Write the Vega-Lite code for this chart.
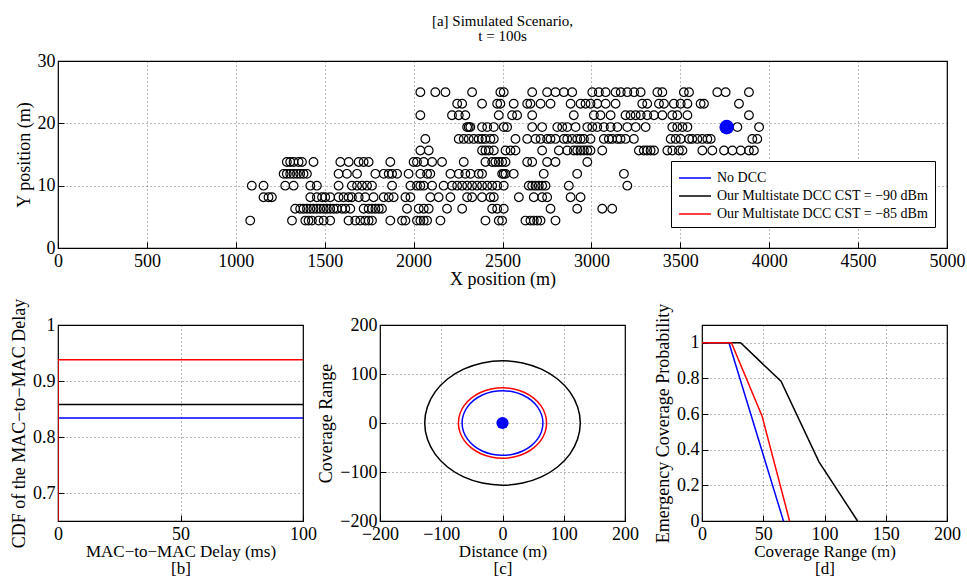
{
"$schema":"https://vega.github.io/schema/vega-lite/v6.json",
"background":"white",
"padding":{"left":9,"top":13,"right":0,"bottom":0},
"bounds":"flush",
"spacing":77,
"config":{
 "font":"Liberation Serif",
 "view":{"stroke":"black","strokeWidth":1.2},
 "axis":{"labelFont":"Liberation Serif","labelFontSize":18,"labelColor":"black","titleFont":"Liberation Serif","titleFontSize":18,"titleFontWeight":"normal","titleColor":"black","domain":false,"grid":true,"gridColor":"#000","gridDash":[1,3],"gridOpacity":0.55,"gridWidth":1,"tickColor":"black","tickSize":-6,"tickWidth":1,"titlePadding":4,"labelFlush":false,"labelOverlap":false},
 "axisX":{"labelPadding":10},
 "axisY":{"labelPadding":9},
 "legend":{"orient":"none","legendX":613,"legendY":100,"labelFont":"Liberation Serif","labelFontSize":14,"labelColor":"black","labelLimit":400,"symbolType":"M-1.6,0H1.6","symbolSize":400,"symbolStrokeWidth":1.5,"symbolOffset":7,"strokeColor":"black","fillColor":"white","padding":6,"rowPadding":0,"labelOffset":11},
 "title":{"font":"Liberation Serif","fontSize":15,"fontWeight":"normal","color":"black"}
},
"vconcat":[
{
 "width":889,"height":187,
 "title":{"text":["[a] Simulated Scenario,","t = 100s"],"anchor":"middle","offset":8,"lineHeight":15},
 "layer":[
 {
  "data":{"values":[
{"x":2038,"y":25},{"x":2122,"y":25},{"x":2179,"y":25},{"x":2329,"y":25},{"x":2488,"y":25},{"x":2507,"y":25},{"x":2667,"y":25},{"x":2751,"y":25},{"x":2798,"y":25},{"x":2845,"y":25},{"x":2892,"y":25},{"x":3005,"y":25},{"x":3042,"y":25},{"x":3080,"y":25},{"x":3136,"y":25},{"x":3165,"y":25},{"x":3202,"y":25},{"x":3240,"y":25},{"x":3277,"y":25},{"x":3371,"y":25},{"x":3399,"y":25},{"x":3520,"y":25},{"x":3549,"y":25},{"x":3708,"y":25},{"x":3755,"y":25},{"x":3886,"y":25},
{"x":2245,"y":23.15},{"x":2273,"y":23.15},{"x":2385,"y":23.15},{"x":2470,"y":23.15},{"x":2488,"y":23.15},{"x":2563,"y":23.15},{"x":2639,"y":23.15},{"x":2657,"y":23.15},{"x":2714,"y":23.15},{"x":2770,"y":23.15},{"x":2883,"y":23.15},{"x":2939,"y":23.15},{"x":2967,"y":23.15},{"x":2995,"y":23.15},{"x":3033,"y":23.15},{"x":3080,"y":23.15},{"x":3136,"y":23.15},{"x":3286,"y":23.15},{"x":3314,"y":23.15},{"x":3380,"y":23.15},{"x":3408,"y":23.15},{"x":3464,"y":23.15},{"x":3502,"y":23.15},{"x":3540,"y":23.15},{"x":3614,"y":23.15},{"x":3633,"y":23.15},{"x":3830,"y":23.15},
{"x":2038,"y":21.3},{"x":2216,"y":21.3},{"x":2254,"y":21.3},{"x":2291,"y":21.3},{"x":2479,"y":21.3},{"x":2554,"y":21.3},{"x":2582,"y":21.3},{"x":2667,"y":21.3},{"x":2901,"y":21.3},{"x":3014,"y":21.3},{"x":3051,"y":21.3},{"x":3108,"y":21.3},{"x":3192,"y":21.3},{"x":3220,"y":21.3},{"x":3249,"y":21.3},{"x":3277,"y":21.3},{"x":3314,"y":21.3},{"x":3352,"y":21.3},{"x":3399,"y":21.3},{"x":3455,"y":21.3},{"x":3483,"y":21.3},{"x":3540,"y":21.3},{"x":3886,"y":21.3},
{"x":2301,"y":19.4},{"x":2310,"y":19.4},{"x":2319,"y":19.4},{"x":2385,"y":19.4},{"x":2414,"y":19.4},{"x":2451,"y":19.4},{"x":2507,"y":19.4},{"x":2526,"y":19.4},{"x":2667,"y":19.4},{"x":2723,"y":19.4},{"x":2808,"y":19.4},{"x":2836,"y":19.4},{"x":2864,"y":19.4},{"x":2911,"y":19.4},{"x":2977,"y":19.4},{"x":3005,"y":19.4},{"x":3033,"y":19.4},{"x":3070,"y":19.4},{"x":3108,"y":19.4},{"x":3146,"y":19.4},{"x":3202,"y":19.4},{"x":3249,"y":19.4},{"x":3305,"y":19.4},{"x":3455,"y":19.4},{"x":3483,"y":19.4},{"x":3512,"y":19.4},{"x":3540,"y":19.4},{"x":3821,"y":19.4},{"x":3943,"y":19.4},
{"x":2066,"y":17.5},{"x":2254,"y":17.5},{"x":2282,"y":17.5},{"x":2310,"y":17.5},{"x":2338,"y":17.5},{"x":2366,"y":17.5},{"x":2385,"y":17.5},{"x":2404,"y":17.5},{"x":2432,"y":17.5},{"x":2451,"y":17.5},{"x":2573,"y":17.5},{"x":2639,"y":17.5},{"x":2686,"y":17.5},{"x":2714,"y":17.5},{"x":2751,"y":17.5},{"x":2770,"y":17.5},{"x":2798,"y":17.5},{"x":2845,"y":17.5},{"x":2864,"y":17.5},{"x":2892,"y":17.5},{"x":2920,"y":17.5},{"x":2939,"y":17.5},{"x":2958,"y":17.5},{"x":2995,"y":17.5},{"x":3070,"y":17.5},{"x":3098,"y":17.5},{"x":3117,"y":17.5},{"x":3146,"y":17.5},{"x":3164,"y":17.5},{"x":3192,"y":17.5},{"x":3239,"y":17.5},{"x":3446,"y":17.5},{"x":3474,"y":17.5},{"x":3502,"y":17.5},{"x":3549,"y":17.5},{"x":3567,"y":17.5},{"x":3596,"y":17.5},{"x":3624,"y":17.5},{"x":3652,"y":17.5},{"x":3671,"y":17.5},{"x":3905,"y":17.5},{"x":3933,"y":17.5},
{"x":2038,"y":15.65},{"x":2085,"y":15.65},{"x":2385,"y":15.65},{"x":2404,"y":15.65},{"x":2423,"y":15.65},{"x":2451,"y":15.65},{"x":2517,"y":15.65},{"x":2545,"y":15.65},{"x":2573,"y":15.65},{"x":2723,"y":15.65},{"x":2817,"y":15.65},{"x":2864,"y":15.65},{"x":2901,"y":15.65},{"x":2920,"y":15.65},{"x":2939,"y":15.65},{"x":2958,"y":15.65},{"x":2977,"y":15.65},{"x":2995,"y":15.65},{"x":3061,"y":15.65},{"x":3267,"y":15.65},{"x":3295,"y":15.65},{"x":3314,"y":15.65},{"x":3333,"y":15.65},{"x":3352,"y":15.65},{"x":3427,"y":15.65},{"x":3455,"y":15.65},{"x":3492,"y":15.65},{"x":3512,"y":15.65},{"x":3624,"y":15.65},{"x":3680,"y":15.65},{"x":3746,"y":15.65},{"x":3793,"y":15.65},{"x":3840,"y":15.65},{"x":3886,"y":15.65},{"x":3914,"y":15.65},
{"x":1287,"y":13.8},{"x":1306,"y":13.8},{"x":1325,"y":13.8},{"x":1353,"y":13.8},{"x":1372,"y":13.8},{"x":1437,"y":13.8},{"x":1588,"y":13.8},{"x":1635,"y":13.8},{"x":1691,"y":13.8},{"x":1719,"y":13.8},{"x":1747,"y":13.8},{"x":1869,"y":13.8},{"x":2000,"y":13.8},{"x":2019,"y":13.8},{"x":2057,"y":13.8},{"x":2104,"y":13.8},{"x":2160,"y":13.8},{"x":2282,"y":13.8},{"x":2404,"y":13.8},{"x":2442,"y":13.8},{"x":2460,"y":13.8},{"x":2479,"y":13.8},{"x":2498,"y":13.8},{"x":2517,"y":13.8},{"x":2639,"y":13.8},{"x":2667,"y":13.8},{"x":2751,"y":13.8},{"x":2798,"y":13.8},{"x":2977,"y":13.8},
{"x":1269,"y":11.9},{"x":1287,"y":11.9},{"x":1306,"y":11.9},{"x":1325,"y":11.9},{"x":1344,"y":11.9},{"x":1362,"y":11.9},{"x":1381,"y":11.9},{"x":1400,"y":11.9},{"x":1578,"y":11.9},{"x":1625,"y":11.9},{"x":1682,"y":11.9},{"x":1785,"y":11.9},{"x":1832,"y":11.9},{"x":1860,"y":11.9},{"x":1879,"y":11.9},{"x":1907,"y":11.9},{"x":1972,"y":11.9},{"x":2038,"y":11.9},{"x":2076,"y":11.9},{"x":2094,"y":11.9},{"x":2207,"y":11.9},{"x":2254,"y":11.9},{"x":2291,"y":11.9},{"x":2320,"y":11.9},{"x":2366,"y":11.9},{"x":2385,"y":11.9},{"x":2498,"y":11.9},{"x":2507,"y":11.9},{"x":2517,"y":11.9},{"x":2563,"y":11.9},{"x":2732,"y":11.9},{"x":2920,"y":11.9},{"x":3183,"y":11.9},
{"x":1090,"y":10},{"x":1156,"y":10},{"x":1278,"y":10},{"x":1325,"y":10},{"x":1419,"y":10},{"x":1456,"y":10},{"x":1578,"y":10},{"x":1653,"y":10},{"x":1682,"y":10},{"x":1710,"y":10},{"x":1738,"y":10},{"x":1766,"y":10},{"x":1879,"y":10},{"x":1982,"y":10},{"x":2019,"y":10},{"x":2038,"y":10},{"x":2057,"y":10},{"x":2104,"y":10},{"x":2169,"y":10},{"x":2216,"y":10},{"x":2245,"y":10},{"x":2273,"y":10},{"x":2301,"y":10},{"x":2329,"y":10},{"x":2357,"y":10},{"x":2385,"y":10},{"x":2414,"y":10},{"x":2442,"y":10},{"x":2470,"y":10},{"x":2507,"y":10},{"x":2648,"y":10},{"x":2667,"y":10},{"x":2686,"y":10},{"x":2704,"y":10},{"x":2723,"y":10},{"x":2742,"y":10},{"x":2873,"y":10},{"x":3202,"y":10},
{"x":1156,"y":8.15},{"x":1184,"y":8.15},{"x":1203,"y":8.15},{"x":1419,"y":8.15},{"x":1456,"y":8.15},{"x":1485,"y":8.15},{"x":1503,"y":8.15},{"x":1531,"y":8.15},{"x":1578,"y":8.15},{"x":1606,"y":8.15},{"x":1634,"y":8.15},{"x":1653,"y":8.15},{"x":1691,"y":8.15},{"x":1728,"y":8.15},{"x":1775,"y":8.15},{"x":1832,"y":8.15},{"x":1860,"y":8.15},{"x":1888,"y":8.15},{"x":1954,"y":8.15},{"x":1982,"y":8.15},{"x":2094,"y":8.15},{"x":2141,"y":8.15},{"x":2207,"y":8.15},{"x":2301,"y":8.15},{"x":2329,"y":8.15},{"x":2385,"y":8.15},{"x":2432,"y":8.15},{"x":2451,"y":8.15},{"x":2592,"y":8.15},{"x":2676,"y":8.15},{"x":2723,"y":8.15},{"x":2751,"y":8.15},{"x":2883,"y":8.15},{"x":2939,"y":8.15},
{"x":1334,"y":6.3},{"x":1362,"y":6.3},{"x":1381,"y":6.3},{"x":1400,"y":6.3},{"x":1419,"y":6.3},{"x":1437,"y":6.3},{"x":1456,"y":6.3},{"x":1475,"y":6.3},{"x":1494,"y":6.3},{"x":1512,"y":6.3},{"x":1531,"y":6.3},{"x":1550,"y":6.3},{"x":1569,"y":6.3},{"x":1597,"y":6.3},{"x":1616,"y":6.3},{"x":1644,"y":6.3},{"x":1719,"y":6.3},{"x":1747,"y":6.3},{"x":1766,"y":6.3},{"x":1785,"y":6.3},{"x":1804,"y":6.3},{"x":1822,"y":6.3},{"x":1963,"y":6.3},{"x":2029,"y":6.3},{"x":2057,"y":6.3},{"x":2085,"y":6.3},{"x":2188,"y":6.3},{"x":2273,"y":6.3},{"x":2442,"y":6.3},{"x":2470,"y":6.3},{"x":2507,"y":6.3},{"x":2770,"y":6.3},{"x":2920,"y":6.3},{"x":3061,"y":6.3},{"x":3117,"y":6.3},
{"x":1081,"y":4.4},{"x":1316,"y":4.4},{"x":1391,"y":4.4},{"x":1409,"y":4.4},{"x":1428,"y":4.4},{"x":1466,"y":4.4},{"x":1494,"y":4.4},{"x":1531,"y":4.4},{"x":1634,"y":4.4},{"x":1672,"y":4.4},{"x":1700,"y":4.4},{"x":1728,"y":4.4},{"x":1747,"y":4.4},{"x":1766,"y":4.4},{"x":1869,"y":4.4},{"x":1935,"y":4.4},{"x":1954,"y":4.4},{"x":2019,"y":4.4},{"x":2038,"y":4.4},{"x":2057,"y":4.4},{"x":2076,"y":4.4},{"x":2151,"y":4.4},{"x":2404,"y":4.4},{"x":2479,"y":4.4},{"x":2498,"y":4.4},{"x":2629,"y":4.4},{"x":2657,"y":4.4},{"x":2676,"y":4.4},{"x":2695,"y":4.4},{"x":2714,"y":4.4},{"x":2798,"y":4.4}
  ]},
  "mark":{"type":"point","shape":"circle","filled":false,"stroke":"black","strokeWidth":1.2,"size":75,"opacity":1},
  "encoding":{
   "x":{"field":"x","type":"quantitative","scale":{"domain":[0,5000],"nice":false},"axis":{"values":[0,500,1000,1500,2000,2500,3000,3500,4000,4500,5000],"format":"d","title":"X position (m)","titlePadding":0}},
   "y":{"field":"y","type":"quantitative","scale":{"domain":[0,30],"nice":false},"axis":{"values":[0,10,20,30],"format":"d","title":"Y position (m)"}}
  }
 },
 {
  "data":{"values":[{"x":3761,"y":19.4}]},
  "mark":{"type":"point","shape":"circle","filled":true,"color":"#0000ff","size":215,"opacity":1},
  "encoding":{
   "x":{"field":"x","type":"quantitative"},
   "y":{"field":"y","type":"quantitative"}
  }
 }
 ]
},
{
 "bounds":"flush",
 "spacing":77,
 "hconcat":[
 {
  "width":245,"height":196,
  "data":{"values":[
   {"s":"No DCC","o":0,"x":0,"y":0.6},{"s":"No DCC","o":1,"x":0,"y":0.834},{"s":"No DCC","o":2,"x":100,"y":0.834},
   {"s":"Our Multistate DCC CST = −90 dBm","o":0,"x":0,"y":0.6},{"s":"Our Multistate DCC CST = −90 dBm","o":1,"x":0,"y":0.858},{"s":"Our Multistate DCC CST = −90 dBm","o":2,"x":100,"y":0.858},
   {"s":"Our Multistate DCC CST = −85 dBm","o":0,"x":0,"y":0.6},{"s":"Our Multistate DCC CST = −85 dBm","o":1,"x":0,"y":0.938},{"s":"Our Multistate DCC CST = −85 dBm","o":2,"x":100,"y":0.938}
  ]},
  "mark":{"type":"line","strokeWidth":1.5,"clip":true},
  "encoding":{
   "x":{"field":"x","type":"quantitative","scale":{"domain":[0,100],"nice":false},"axis":{"values":[0,50,100],"format":"d","title":["MAC−to−MAC Delay (ms)","[b]"],"titleFontSize":17,"titleLineHeight":17,"titlePadding":0}},
   "y":{"field":"y","type":"quantitative","scale":{"domain":[0.65,1],"nice":false,"zero":false},"axis":{"values":[0.7,0.8,0.9,1],"format":"~g","title":"CDF of the MAC−to−MAC Delay"}},
   "color":{"field":"s","type":"nominal","scale":{"domain":["No DCC","Our Multistate DCC CST = −90 dBm","Our Multistate DCC CST = −85 dBm"],"range":["#0000ff","#000000","#ff0000"]},"legend":{"title":null}},
   "order":{"field":"o","type":"quantitative"}
  }
 },
 {
  "width":245,"height":196,
  "layer":[
  {
   "data":{"values":[
{"s":"No DCC","o":0,"x":66,"y":0},{"s":"No DCC","o":1,"x":63.75,"y":17.08},{"s":"No DCC","o":2,"x":57.16,"y":33},{"s":"No DCC","o":3,"x":46.67,"y":46.67},{"s":"No DCC","o":4,"x":33,"y":57.16},{"s":"No DCC","o":5,"x":17.08,"y":63.75},{"s":"No DCC","o":6,"x":0,"y":66},{"s":"No DCC","o":7,"x":-17.08,"y":63.75},{"s":"No DCC","o":8,"x":-33,"y":57.16},{"s":"No DCC","o":9,"x":-46.67,"y":46.67},{"s":"No DCC","o":10,"x":-57.16,"y":33},{"s":"No DCC","o":11,"x":-63.75,"y":17.08},{"s":"No DCC","o":12,"x":-66,"y":0},{"s":"No DCC","o":13,"x":-63.75,"y":-17.08},{"s":"No DCC","o":14,"x":-57.16,"y":-33},{"s":"No DCC","o":15,"x":-46.67,"y":-46.67},{"s":"No DCC","o":16,"x":-33,"y":-57.16},{"s":"No DCC","o":17,"x":-17.08,"y":-63.75},{"s":"No DCC","o":18,"x":0,"y":-66},{"s":"No DCC","o":19,"x":17.08,"y":-63.75},{"s":"No DCC","o":20,"x":33,"y":-57.16},{"s":"No DCC","o":21,"x":46.67,"y":-46.67},{"s":"No DCC","o":22,"x":57.16,"y":-33},{"s":"No DCC","o":23,"x":63.75,"y":-17.08},
{"s":"Our Multistate DCC CST = −90 dBm","o":0,"x":127,"y":0},{"s":"Our Multistate DCC CST = −90 dBm","o":1,"x":122.67,"y":32.87},{"s":"Our Multistate DCC CST = −90 dBm","o":2,"x":109.98,"y":63.5},{"s":"Our Multistate DCC CST = −90 dBm","o":3,"x":89.8,"y":89.8},{"s":"Our Multistate DCC CST = −90 dBm","o":4,"x":63.5,"y":109.98},{"s":"Our Multistate DCC CST = −90 dBm","o":5,"x":32.87,"y":122.67},{"s":"Our Multistate DCC CST = −90 dBm","o":6,"x":0,"y":127},{"s":"Our Multistate DCC CST = −90 dBm","o":7,"x":-32.87,"y":122.67},{"s":"Our Multistate DCC CST = −90 dBm","o":8,"x":-63.5,"y":109.98},{"s":"Our Multistate DCC CST = −90 dBm","o":9,"x":-89.8,"y":89.8},{"s":"Our Multistate DCC CST = −90 dBm","o":10,"x":-109.98,"y":63.5},{"s":"Our Multistate DCC CST = −90 dBm","o":11,"x":-122.67,"y":32.87},{"s":"Our Multistate DCC CST = −90 dBm","o":12,"x":-127,"y":0},{"s":"Our Multistate DCC CST = −90 dBm","o":13,"x":-122.67,"y":-32.87},{"s":"Our Multistate DCC CST = −90 dBm","o":14,"x":-109.98,"y":-63.5},{"s":"Our Multistate DCC CST = −90 dBm","o":15,"x":-89.8,"y":-89.8},{"s":"Our Multistate DCC CST = −90 dBm","o":16,"x":-63.5,"y":-109.98},{"s":"Our Multistate DCC CST = −90 dBm","o":17,"x":-32.87,"y":-122.67},{"s":"Our Multistate DCC CST = −90 dBm","o":18,"x":0,"y":-127},{"s":"Our Multistate DCC CST = −90 dBm","o":19,"x":32.87,"y":-122.67},{"s":"Our Multistate DCC CST = −90 dBm","o":20,"x":63.5,"y":-109.98},{"s":"Our Multistate DCC CST = −90 dBm","o":21,"x":89.8,"y":-89.8},{"s":"Our Multistate DCC CST = −90 dBm","o":22,"x":109.98,"y":-63.5},{"s":"Our Multistate DCC CST = −90 dBm","o":23,"x":122.67,"y":-32.87},
{"s":"Our Multistate DCC CST = −85 dBm","o":0,"x":72,"y":0},{"s":"Our Multistate DCC CST = −85 dBm","o":1,"x":69.54,"y":18.63},{"s":"Our Multistate DCC CST = −85 dBm","o":2,"x":62.35,"y":36},{"s":"Our Multistate DCC CST = −85 dBm","o":3,"x":50.91,"y":50.91},{"s":"Our Multistate DCC CST = −85 dBm","o":4,"x":36,"y":62.35},{"s":"Our Multistate DCC CST = −85 dBm","o":5,"x":18.63,"y":69.54},{"s":"Our Multistate DCC CST = −85 dBm","o":6,"x":0,"y":72},{"s":"Our Multistate DCC CST = −85 dBm","o":7,"x":-18.63,"y":69.54},{"s":"Our Multistate DCC CST = −85 dBm","o":8,"x":-36,"y":62.35},{"s":"Our Multistate DCC CST = −85 dBm","o":9,"x":-50.91,"y":50.91},{"s":"Our Multistate DCC CST = −85 dBm","o":10,"x":-62.35,"y":36},{"s":"Our Multistate DCC CST = −85 dBm","o":11,"x":-69.54,"y":18.63},{"s":"Our Multistate DCC CST = −85 dBm","o":12,"x":-72,"y":0},{"s":"Our Multistate DCC CST = −85 dBm","o":13,"x":-69.54,"y":-18.63},{"s":"Our Multistate DCC CST = −85 dBm","o":14,"x":-62.35,"y":-36},{"s":"Our Multistate DCC CST = −85 dBm","o":15,"x":-50.91,"y":-50.91},{"s":"Our Multistate DCC CST = −85 dBm","o":16,"x":-36,"y":-62.35},{"s":"Our Multistate DCC CST = −85 dBm","o":17,"x":-18.63,"y":-69.54},{"s":"Our Multistate DCC CST = −85 dBm","o":18,"x":0,"y":-72},{"s":"Our Multistate DCC CST = −85 dBm","o":19,"x":18.63,"y":-69.54},{"s":"Our Multistate DCC CST = −85 dBm","o":20,"x":36,"y":-62.35},{"s":"Our Multistate DCC CST = −85 dBm","o":21,"x":50.91,"y":-50.91},{"s":"Our Multistate DCC CST = −85 dBm","o":22,"x":62.35,"y":-36},{"s":"Our Multistate DCC CST = −85 dBm","o":23,"x":69.54,"y":-18.63}
   ]},
   "mark":{"type":"line","strokeWidth":1.5,"interpolate":"cardinal-closed"},
   "encoding":{
    "x":{"field":"x","type":"quantitative","scale":{"domain":[-200,200],"nice":false},"axis":{"values":[-200,-100,0,100,200],"format":"d","title":["Distance (m)","[c]"],"titleFontSize":17,"titleLineHeight":17,"titlePadding":0}},
    "y":{"field":"y","type":"quantitative","scale":{"domain":[-200,200],"nice":false},"axis":{"values":[-200,-100,0,100,200],"format":"d","title":"Coverage Range"}},
    "color":{"field":"s","type":"nominal","scale":{"domain":["No DCC","Our Multistate DCC CST = −90 dBm","Our Multistate DCC CST = −85 dBm"],"range":["#0000ff","#000000","#ff0000"]},"legend":{"title":null}},
    "order":{"field":"o","type":"quantitative"}
   }
  },
  {
   "data":{"values":[{"x":0,"y":0}]},
   "mark":{"type":"point","shape":"circle","filled":true,"color":"#0000ff","size":150,"opacity":1},
   "encoding":{"x":{"field":"x","type":"quantitative"},"y":{"field":"y","type":"quantitative"}}
  }
  ]
 },
 {
  "width":245,"height":196,
  "data":{"values":[
   {"s":"No DCC","o":0,"x":0,"y":1},{"s":"No DCC","o":1,"x":22,"y":1},{"s":"No DCC","o":2,"x":66.5,"y":0},
   {"s":"Our Multistate DCC CST = −90 dBm","o":0,"x":0,"y":1},{"s":"Our Multistate DCC CST = −90 dBm","o":1,"x":31.5,"y":1},{"s":"Our Multistate DCC CST = −90 dBm","o":2,"x":64.5,"y":0.784},{"s":"Our Multistate DCC CST = −90 dBm","o":3,"x":95.5,"y":0.332},{"s":"Our Multistate DCC CST = −90 dBm","o":4,"x":127,"y":0},
   {"s":"Our Multistate DCC CST = −85 dBm","o":0,"x":0,"y":1},{"s":"Our Multistate DCC CST = −85 dBm","o":1,"x":24,"y":1},{"s":"Our Multistate DCC CST = −85 dBm","o":2,"x":49,"y":0.59},{"s":"Our Multistate DCC CST = −85 dBm","o":3,"x":71.5,"y":0}
  ]},
  "mark":{"type":"line","strokeWidth":1.5},
  "encoding":{
   "x":{"field":"x","type":"quantitative","scale":{"domain":[0,200],"nice":false},"axis":{"values":[0,50,100,150,200],"format":"d","title":["Coverage Range (m)","[d]"],"titleFontSize":17,"titleLineHeight":17,"titlePadding":0}},
   "y":{"field":"y","type":"quantitative","scale":{"domain":[0,1.1],"nice":false},"axis":{"values":[0,0.2,0.4,0.6,0.8,1],"format":"~g","title":"Emergency Coverage Probability"}},
   "color":{"field":"s","type":"nominal","scale":{"domain":["No DCC","Our Multistate DCC CST = −90 dBm","Our Multistate DCC CST = −85 dBm"],"range":["#0000ff","#000000","#ff0000"]},"legend":{"title":null}},
   "order":{"field":"o","type":"quantitative"}
  }
 }
 ]
}
]
}
